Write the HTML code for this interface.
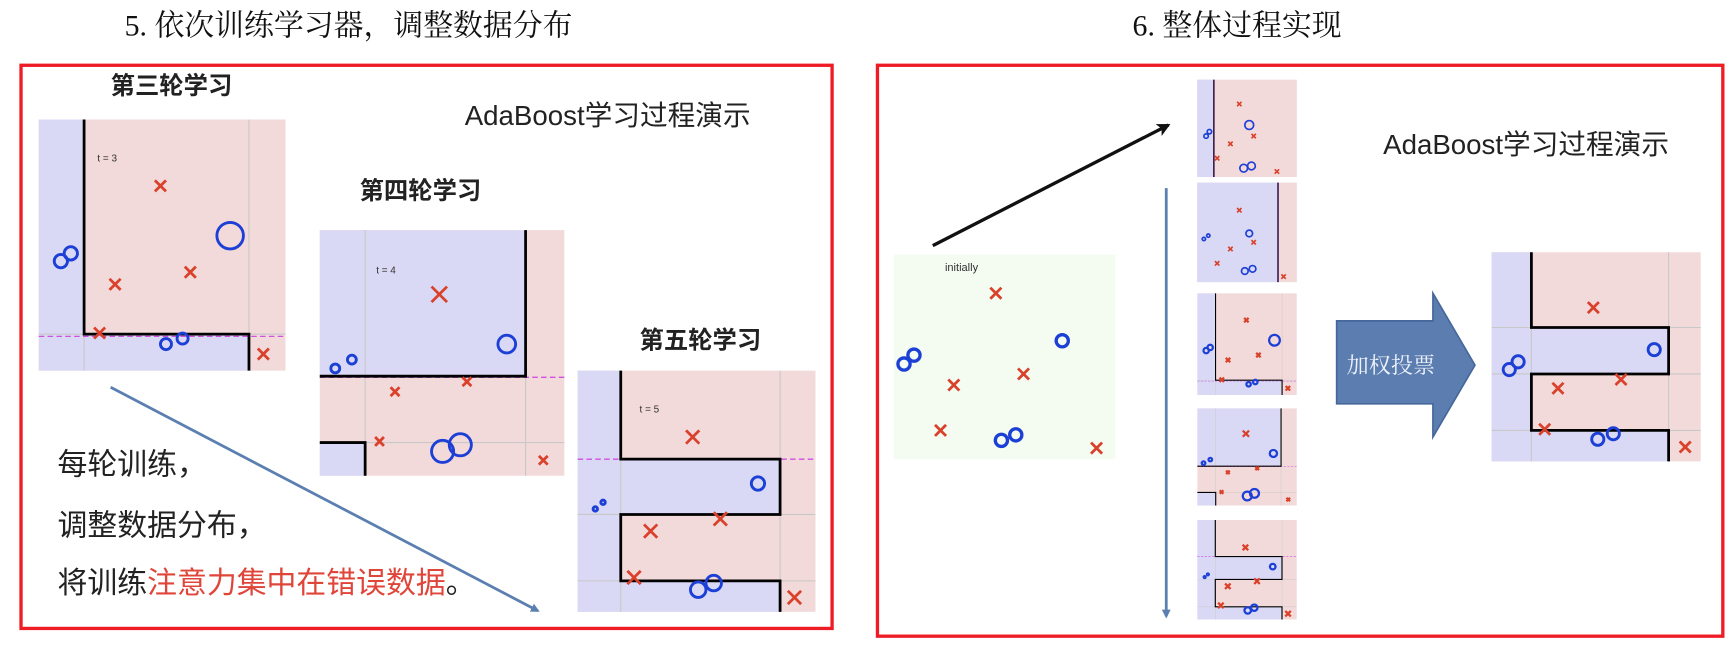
<!DOCTYPE html>
<html><head><meta charset="utf-8"><style>
html,body{margin:0;padding:0;background:#fff;width:1735px;height:655px;overflow:hidden}
svg{display:block}
text{font-family:"Liberation Sans","Noto Sans CJK SC",sans-serif}
.t{font-family:"Liberation Serif","Noto Serif CJK SC",serif}
</style></head><body>
<svg width="1735" height="655" viewBox="0 0 1568 592" preserveAspectRatio="none" xmlns="http://www.w3.org/2000/svg">
<defs>
<marker id="ab" markerWidth="8" markerHeight="8" refX="6" refY="4" orient="auto" markerUnits="userSpaceOnUse"><path d="M0,0 L8,4 L0,8 z" fill="#5a7fb0"/></marker>
<marker id="ak" markerWidth="12" markerHeight="12" refX="10" refY="6" orient="auto" markerUnits="userSpaceOnUse"><path d="M0,0 L12,6 L0,12 L3,6 z" fill="#111"/></marker>
<g id="p3">
<rect x="35" y="108" width="223" height="227" fill="#f3dada"/>
<rect x="35" y="108" width="41" height="227" fill="#d9d9f5"/>
<rect x="76" y="302" width="149" height="33" fill="#d9d9f5"/>
<path d="M76,108V335M225,108V335M35,302H258" stroke="#c8c8c8" stroke-width="1" fill="none"/>
<path d="M35,304H258" stroke="#d050e0" stroke-width="1.2" stroke-dasharray="5,3" fill="none"/>
<path d="M76,108V302H225V335" stroke="#000" stroke-width="2.5" fill="none"/>
</g>
<g id="p4">
<rect x="289" y="208" width="221" height="222" fill="#f3dada"/>
<rect x="289" y="208" width="186" height="132" fill="#d9d9f5"/>
<rect x="289" y="400" width="41" height="30" fill="#d9d9f5"/>
<path d="M330,208V430M475,208V430M289,400H510" stroke="#c8c8c8" stroke-width="1" fill="none"/>
<path d="M289,341H510" stroke="#d050e0" stroke-width="1.2" stroke-dasharray="5,3" fill="none"/>
<path d="M475,208V340H330M289,340H330M289,400H330V430" stroke="#000" stroke-width="2.5" fill="none"/>
</g>
<g id="p5">
<rect x="522" y="335" width="215" height="218" fill="#f3dada"/>
<rect x="522" y="335" width="39" height="218" fill="#d9d9f5"/>
<rect x="561" y="415" width="144" height="50" fill="#d9d9f5"/>
<rect x="561" y="525" width="144" height="28" fill="#d9d9f5"/>
<path d="M561,335V553M705,335V553M522,465H737M522,525H737" stroke="#c8c8c8" stroke-width="1" fill="none"/>
<path d="M522,415H737" stroke="#d050e0" stroke-width="1.2" stroke-dasharray="5,3" fill="none"/>
<path d="M561,335V415H705V465H561V525H705V553" stroke="#000" stroke-width="2.5" fill="none"/>
</g>
</defs>

<text x="315" y="32" class="t" font-size="27" text-anchor="middle" fill="#111">5. 依次训练学习器，调整数据分布</text>
<text x="1118" y="32" class="t" font-size="27" text-anchor="middle" fill="#111">6. 整体过程实现</text>

<rect x="19" y="59" width="733" height="509" fill="none" stroke="#ee1c25" stroke-width="3"/>
<rect x="793" y="59" width="764" height="516" fill="none" stroke="#ee1c25" stroke-width="3"/>

<!-- left panel -->
<text x="100" y="85" font-size="22" fill="#222" font-weight="bold">第三轮学习</text>
<use href="#p3"/>
<use href="#p4"/>
<use href="#p5"/>
<text x="88" y="146" font-size="9" fill="#333">t = 3</text>
<text x="340" y="247" font-size="9" fill="#333">t = 4</text>
<text x="578" y="373" font-size="9" fill="#333">t = 5</text>
<g stroke="#d9412b" stroke-width="2.5" fill="none">
<path d="M140,163l10,10m0,-10l-10,10M167,241l10,10m0,-10l-10,10M99,252l10,10m0,-10l-10,10M85,296l10,10m0,-10l-10,10M233,315l10,10m0,-10l-10,10"/>
<path d="M390,259l14,14m0,-14l-14,14M353,350l8,8m0,-8l-8,8M418,341l8,8m0,-8l-8,8M339,395l8,8m0,-8l-8,8M487,412l8,8m0,-8l-8,8"/>
<path d="M620,389l12,12m0,-12l-12,12M582,474l12,12m0,-12l-12,12M645,463l12,12m0,-12l-12,12M567,516l12,12m0,-12l-12,12M712,534l12,12m0,-12l-12,12"/>
</g>
<g stroke="#1c3fd6" stroke-width="2.6" fill="none">
<circle cx="208" cy="213" r="12"/><circle cx="55" cy="236" r="6"/><circle cx="64" cy="229" r="6"/><circle cx="150" cy="311" r="5"/><circle cx="165" cy="306" r="5"/>
<circle cx="458" cy="311" r="8"/><circle cx="303" cy="333" r="4"/><circle cx="318" cy="325" r="4"/><circle cx="400" cy="408" r="10"/><circle cx="416" cy="402" r="10"/>
<circle cx="685" cy="437" r="6"/><circle cx="538" cy="460" r="2"/><circle cx="545" cy="454" r="2"/><circle cx="631" cy="533" r="7"/><circle cx="645" cy="527" r="7"/>
</g>
<text x="420" y="113" font-size="25" fill="#222">AdaBoost学习过程演示</text>
<text x="325" y="180" font-size="22" fill="#222" font-weight="bold">第四轮学习</text>
<text x="578" y="315" font-size="22" fill="#222" font-weight="bold">第五轮学习</text>
<line x1="100" y1="350" x2="486" y2="552" stroke="#5a7fb0" stroke-width="2.5" marker-end="url(#ab)"/>
<text x="52" y="429" font-size="27" fill="#222">每轮训练，</text>
<text x="52" y="484" font-size="27" fill="#222">调整数据分布，</text>
<text x="52" y="536" font-size="27" fill="#222">将训练<tspan fill="#e0453a">注意力集中在错误数据</tspan>。</text>

<!-- right panel -->
<rect x="808" y="230" width="200" height="185" fill="#f4fbf1"/>
<text x="854" y="245" font-size="10" fill="#333">initially</text>
<g stroke="#d9412b" stroke-width="2.5" fill="none">
<path d="M895,260l10,10m0,-10l-10,10M857,343l10,10m0,-10l-10,10M920,333l10,10m0,-10l-10,10M845,384l10,10m0,-10l-10,10M986,400l10,10m0,-10l-10,10"/>
</g>
<g stroke="#1c3fd6" stroke-width="3" fill="none">
<circle cx="960" cy="308" r="5.5"/><circle cx="817" cy="329" r="5.5"/><circle cx="826" cy="321" r="5.5"/><circle cx="905" cy="398" r="5.5"/><circle cx="918" cy="393" r="5.5"/>
</g>
<line x1="843" y1="222" x2="1056" y2="113" stroke="#111" stroke-width="3" marker-end="url(#ak)"/>
<line x1="1054" y1="170" x2="1054" y2="557" stroke="#5a7fb0" stroke-width="2.5" marker-end="url(#ab)"/>

<!-- small plots -->
<rect x="1082" y="72" width="90" height="88" fill="#f3dada"/>
<rect x="1082" y="72" width="15" height="88" fill="#d9d9f5"/>
<line x1="1097" y1="72" x2="1097" y2="160" stroke="#402050" stroke-width="1.5"/>
<rect x="1082" y="165" width="90" height="90" fill="#f3dada"/>
<rect x="1082" y="165" width="73" height="90" fill="#d9d9f5"/>
<line x1="1155" y1="165" x2="1155" y2="255" stroke="#402050" stroke-width="1.5"/>
<g stroke="#d9412b" stroke-width="1.5" fill="none">
<path d="M1118,92l4,4m0,-4l-4,4M1110,128l4,4m0,-4l-4,4M1131,121l4,4m0,-4l-4,4M1098,141l4,4m0,-4l-4,4M1152,153l4,4m0,-4l-4,4"/>
<path d="M1118,188l4,4m0,-4l-4,4M1110,223l4,4m0,-4l-4,4M1131,217l4,4m0,-4l-4,4M1098,236l4,4m0,-4l-4,4M1158,248l4,4m0,-4l-4,4"/>
</g>
<g stroke="#1c3fd6" stroke-width="1.5" fill="none">
<circle cx="1129" cy="113" r="4"/><circle cx="1090" cy="123" r="2"/><circle cx="1093" cy="119" r="2"/><circle cx="1124" cy="152" r="3.5"/><circle cx="1131" cy="150" r="3.5"/>
<circle cx="1129" cy="211" r="3"/><circle cx="1088" cy="216" r="1.5"/><circle cx="1092" cy="213" r="1.5"/><circle cx="1125" cy="245" r="3"/><circle cx="1132" cy="243" r="3"/>
</g>
<svg x="1082" y="265" width="90" height="92" viewBox="35 108 223 227" preserveAspectRatio="none"><use href="#p3"/>
<g stroke="#d9412b" stroke-width="5" fill="none"><path d="M140,163l10,10m0,-10l-10,10M167,241l10,10m0,-10l-10,10M99,252l10,10m0,-10l-10,10M85,296l10,10m0,-10l-10,10M233,315l10,10m0,-10l-10,10"/></g>
<g stroke="#1c3fd6" stroke-width="5" fill="none"><circle cx="208" cy="213" r="12"/><circle cx="55" cy="236" r="6"/><circle cx="64" cy="229" r="6"/><circle cx="150" cy="311" r="5"/><circle cx="165" cy="306" r="5"/></g></svg>
<svg x="1082" y="369" width="90" height="88" viewBox="289 208 221 222" preserveAspectRatio="none"><use href="#p4"/>
<g stroke="#d9412b" stroke-width="5" fill="none"><path d="M390,259l14,14m0,-14l-14,14M353,350l8,8m0,-8l-8,8M418,341l8,8m0,-8l-8,8M339,395l8,8m0,-8l-8,8M487,412l8,8m0,-8l-8,8"/></g>
<g stroke="#1c3fd6" stroke-width="5" fill="none"><circle cx="458" cy="311" r="8"/><circle cx="303" cy="333" r="4"/><circle cx="318" cy="325" r="4"/><circle cx="400" cy="408" r="10"/><circle cx="416" cy="402" r="10"/></g></svg>
<svg x="1082" y="470" width="90" height="90" viewBox="522 335 215 218" preserveAspectRatio="none"><use href="#p5"/>
<g stroke="#d9412b" stroke-width="5" fill="none"><path d="M620,389l12,12m0,-12l-12,12M582,474l12,12m0,-12l-12,12M645,463l12,12m0,-12l-12,12M567,516l12,12m0,-12l-12,12M712,534l12,12m0,-12l-12,12"/></g>
<g stroke="#1c3fd6" stroke-width="5" fill="none"><circle cx="685" cy="437" r="6"/><circle cx="538" cy="460" r="2"/><circle cx="545" cy="454" r="2"/><circle cx="631" cy="533" r="7"/><circle cx="645" cy="527" r="7"/></g></svg>

<text x="1250" y="139" font-size="25" fill="#222">AdaBoost学习过程演示</text>

<!-- big arrow -->
<path d="M1208,290H1295V265L1333,330L1295,395V365H1208Z" fill="#5b7db0" stroke="#45679a" stroke-width="1.5"/>
<text x="1217" y="337" font-size="20" fill="#eef2fa" class="t">加权投票</text>

<!-- final plot -->
<rect x="1348" y="228" width="189" height="189" fill="#f3dada"/>
<rect x="1348" y="228" width="36" height="189" fill="#d9d9f5"/>
<rect x="1384" y="296" width="124" height="42" fill="#d9d9f5"/>
<rect x="1384" y="389" width="124" height="28" fill="#d9d9f5"/>
<path d="M1384,228V417M1508,228V417M1348,296H1537M1348,338H1537M1348,389H1537" stroke="#c8c8c8" stroke-width="1" fill="none"/>
<path d="M1384,228V296H1508V338H1384V389H1508V417" stroke="#000" stroke-width="2.5" fill="none"/>
<g stroke="#d9412b" stroke-width="2.5" fill="none">
<path d="M1435,273l10,10m0,-10l-10,10M1403,346l10,10m0,-10l-10,10M1460,338l10,10m0,-10l-10,10M1391,383l10,10m0,-10l-10,10M1518,399l10,10m0,-10l-10,10"/>
</g>
<g stroke="#1c3fd6" stroke-width="2.6" fill="none">
<circle cx="1495" cy="316" r="5.5"/><circle cx="1364" cy="334" r="5.5"/><circle cx="1372" cy="327" r="5.5"/><circle cx="1444" cy="397" r="5.5"/><circle cx="1458" cy="392" r="5.5"/>
</g>
</svg>
</body></html>
